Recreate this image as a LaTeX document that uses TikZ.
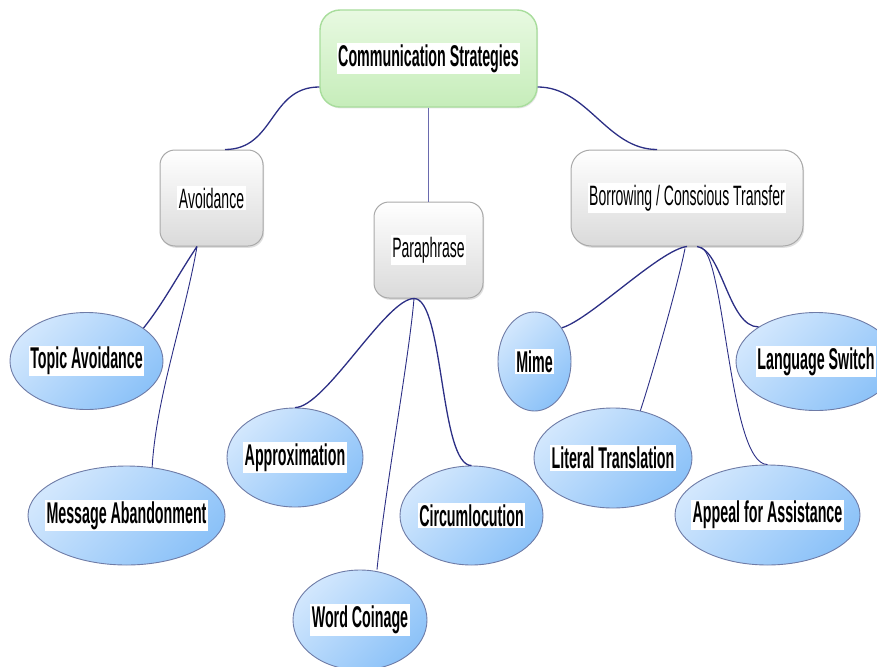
\documentclass[tikz,border=0pt]{standalone}
\usepackage{fontspec}
\setmainfont{Liberation Sans}
\usetikzlibrary{shapes.geometric,calc,shadows}
\definecolor{linec}{HTML}{2C2F85}
\definecolor{linel}{HTML}{6A6AAE}
\definecolor{elborder}{HTML}{6E7BA6}
\definecolor{elA}{HTML}{D2E7FD}
\definecolor{elB}{HTML}{8CC2F8}
\definecolor{grayborder}{HTML}{A9A9A9}
\definecolor{grayB}{HTML}{DADADA}
\definecolor{greenborder}{HTML}{A8DD9C}
\definecolor{greenA}{HTML}{E8F9E1}
\definecolor{greenB}{HTML}{C6EDBA}
\setlength{\fboxsep}{1.5pt}
\newcommand{\boldtxt}[1]{{\fontsize{30}{30}\selectfont\bfseries\colorbox{white}{\scalebox{0.475}[1]{#1}}}}
\newcommand{\regtxt}[1]{{\fontsize{28}{28}\selectfont\colorbox{white}{\scalebox{0.5}[1]{#1}}}}
\tikzset{
  rootbox/.style={draw=greenborder, line width=1.4pt, rounded corners=20pt,
    top color=greenA, bottom color=greenB, inner sep=0pt,
    drop shadow={shadow xshift=1pt, shadow yshift=-1.5pt, opacity=0.2}},
  graybox/.style={draw=grayborder, line width=1pt, rounded corners=15pt,
    top color=white, bottom color=grayB, inner sep=0pt,
    drop shadow={shadow xshift=1.2pt, shadow yshift=-1.8pt, opacity=0.25}},
  leaf/.style={ellipse, draw=elborder, line width=0.9pt, inner sep=0pt,
    top color=elA, bottom color=elB, shading angle=45},
  conn/.style={draw=linec, line width=1.3pt},
  thinconn/.style={draw=linec, line width=0.9pt},
  lightconn/.style={draw=linel, line width=0.9pt}
}
\begin{document}
\begin{tikzpicture}[x=1pt, y=-1pt]
\useasboundingbox (0,0) rectangle (877,666);
\clip (0,0) rectangle (877,666);
% main boxes
\node[rootbox, minimum width=217pt, minimum height=97pt] (cs) at (428.5,58.5) {\boldtxt{Communication Strategies}};
\node[graybox, minimum width=103pt, minimum height=96pt] (av) at (211.5,198) {\regtxt{Avoidance}};
\node[graybox, minimum width=109pt, minimum height=96pt] (pp) at (428.5,250) {\regtxt{Paraphrase}};
\node[graybox, rounded corners=20pt, minimum width=232pt, minimum height=96pt] (bt) at (687,198) {\regtxt{Borrowing / Conscious Transfer}};
% leaves
\node[leaf, minimum width=153pt, minimum height=97pt, label={center:\boldtxt{Topic Avoidance}}] (ta) at (86.5,361) {};
\node[leaf, minimum width=197pt, minimum height=99pt, label={center:\boldtxt{Message Abandonment}}] (ma) at (126.5,515.5) {};
\node[leaf, minimum width=136pt, minimum height=99pt, label={center:\boldtxt{Approximation}}] (ap) at (295,457.5) {};
\node[leaf, minimum width=143pt, minimum height=99pt, label={center:\boldtxt{Circumlocution}}] (ci) at (471.5,515.5) {};
\node[leaf, minimum width=134pt, minimum height=100pt, label={center:\boldtxt{Word Coinage}}] (wc) at (360,620) {};
\node[leaf, minimum width=73pt, minimum height=99pt, label={center:\boldtxt{Mime}}] (mi) at (534.5,361.5) {};
\node[leaf, minimum width=158pt, minimum height=100pt, label={center:\boldtxt{Literal Translation}}] (lt) at (613,458) {};
\node[leaf, minimum width=160pt, minimum height=98pt, label={center:\boldtxt{Language Switch}}] (ls) at (816,361.5) {};
\node[leaf, minimum width=185pt, minimum height=100pt, label={center:\boldtxt{Appeal for Assistance}}] (aa) at (767.5,515) {};
% connectors from root
\draw[conn] ($(cs.west)+(0,28.5)$) .. controls +(-50,0) and +(50,0) .. ($(av.north)+(13.5,0)$);
\draw[conn] ($(cs.east)+(0,28.5)$) .. controls +(50,0) and +(-50,0) .. ($(bt.north)+(-30,0)$);
\draw[lightconn] (cs.south) -- (pp.north);
% avoidance
\draw[conn] ($(av.south)+(-14.5,0)$) .. controls +(-20,30) and +(20,-25) .. (ta.30);
\draw[thinconn] ($(av.south)+(-14.5,0)$) .. controls +(-12,70) and +(4,-70) .. (ma.62);
% paraphrase
\draw[conn] ($(pp.south)+(-14.5,0)$) .. controls +(-28,0) and +(30,0) .. (ap.north);
\draw[thinconn] ($(pp.south)+(-14.5,0)$) .. controls +(-5,60) and +(8,-80) .. ($(wc.north)+(17,0)$);
\draw[conn] ($(pp.south)+(-14.5,0)$) .. controls +(30,0) and +(-32,0) .. (ci.north);
% borrowing
\draw[conn] (bt.south) .. controls +(-27,3) and +(28,-8) .. (mi.51);
\draw[thinconn] ($(bt.south)+(-2,2)$) .. controls +(-8,40) and +(10,-30) .. (lt.60);
\draw[conn] ($(bt.south)+(10,0)$) .. controls +(25,3) and +(-30,0) .. (ls.149);
\draw[thinconn] ($(bt.south)+(13,1)$) .. controls +(25,2) and +(-39,0) .. (aa.north);
\end{tikzpicture}
\end{document}
